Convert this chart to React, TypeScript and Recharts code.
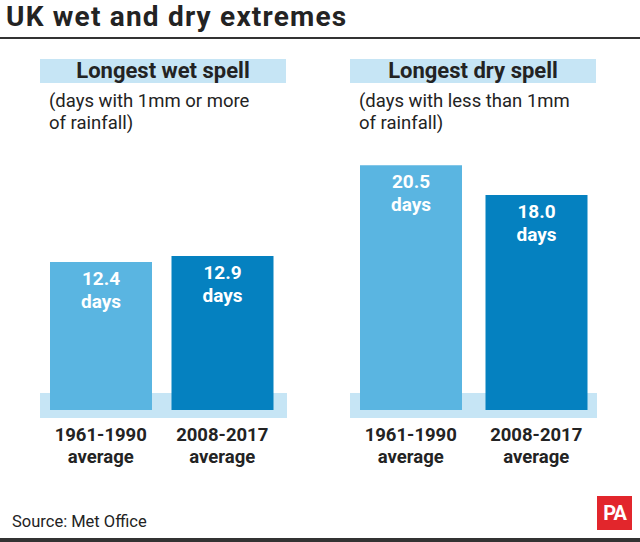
import React from 'react';
import { BarChart, Bar, XAxis, YAxis, LabelList, Cell } from 'recharts';

const categories = ['1961-1990', '2008-2017'];
const wetValues = [12.4, 12.9];
const dryValues = [20.5, 18.0];
const panelTitles = ['Longest wet spell', 'Longest dry spell'];
const panelNotes = [
    ['(days with 1mm or more', 'of rainfall)'],
    ['(days with less than 1mm', 'of rainfall)'],
];

const BAR_COLORS = ['#5ab5e1', '#0581c0'];
const PALE = '#c6e5f5';
const INK = '#232323';
const FONT = 'Roboto, "Noto Sans", sans-serif';

const CategoryTick = ({ x, y, payload }: any) => (
    <g>
        <text x={x} y={y + 31} textAnchor="middle" fill={INK} fontSize={18.5} fontWeight={700} fontFamily={FONT}>
            {payload.value}
        </text>
        <text x={x} y={y + 53} textAnchor="middle" fill={INK} fontSize={18.5} fontWeight={700} fontFamily={FONT}>
            average
        </text>
    </g>
);

const ValueLabel = ({ x, y, width, value }: any) => (
    <g>
        <text x={x + width / 2} y={y + 23} textAnchor="middle" fill="#fff" fontSize={19} fontWeight={700} fontFamily={FONT}>
            {Number(value).toFixed(1)}
        </text>
        <text x={x + width / 2} y={y + 46} textAnchor="middle" fill="#fff" fontSize={19} fontWeight={700} fontFamily={FONT}>
            days
        </text>
    </g>
);

interface PanelProps {
    values: number[];
    plotLeft: number;
    plotWidth: number;
    index: number;
}

const Panel: React.FC<PanelProps> = ({ values, plotLeft, plotWidth, index }) => {
    const data = categories.map((c, i) => ({ period: c, days: values[i] }));
    const boxLeft = index === 0 ? 40 : 350;
    return (
        <>
            <div
                style={{
                    position: 'absolute', left: boxLeft, top: 59, width: 246, height: 24,
                    background: PALE, color: INK, fontWeight: 700, fontSize: 22, lineHeight: '24px',
                    textAlign: 'center',
                }}
            >
                {panelTitles[index]}
            </div>
            <div
                style={{
                    position: 'absolute', left: boxLeft + 9, top: 90, fontSize: 18.5, lineHeight: '22px',
                    color: INK, whiteSpace: 'nowrap',
                }}
            >
                {panelNotes[index][0]}
                <br />
                {panelNotes[index][1]}
            </div>
            <div style={{ position: 'absolute', left: boxLeft, top: 393, width: 247, height: 25, background: PALE }} />
            <div style={{ position: 'absolute', left: plotLeft, top: 0 }}>
                <BarChart
                    width={plotWidth}
                    height={480}
                    data={data}
                    margin={{ top: 111.5, right: 0, left: 0, bottom: 0 }}
                >
                    <XAxis
                        dataKey="period"
                        height={70}
                        axisLine={false}
                        tickLine={false}
                        tickSize={0}
                        tickMargin={0}
                        interval={0}
                        tick={<CategoryTick />}
                    />
                    <YAxis type="number" domain={[0, 25]} hide />
                    <Bar dataKey="days" barSize={102} isAnimationActive={false}>
                        {data.map((d, i) => (
                            <Cell key={d.period} fill={BAR_COLORS[i]} />
                        ))}
                        <LabelList dataKey="days" content={<ValueLabel />} />
                    </Bar>
                </BarChart>
            </div>
        </>
    );
};

export default function App() {
    return (
        <div
            style={{
                position: 'absolute', left: 0, top: 0, width: 640, height: 542, background: '#fff',
                fontFamily: FONT, overflow: 'hidden',
            }}
        >
            <div
                style={{
                    position: 'absolute', left: 6, top: 0, fontSize: 28, fontWeight: 700,
                    color: INK, whiteSpace: 'nowrap', letterSpacing: 1.2,
                }}
            >
                UK wet and dry extremes
            </div>
            <div style={{ position: 'absolute', left: 0, top: 37, width: 640, height: 2, background: '#333' }} />

            <Panel values={wetValues} plotLeft={40} plotWidth={243} index={0} />
            <Panel values={dryValues} plotLeft={348} plotWidth={251} index={1} />

            <div style={{ position: 'absolute', left: 12, top: 512, fontSize: 16.5, lineHeight: '20px', color: INK }}>
                Source: Met Office
            </div>
            <div
                style={{
                    position: 'absolute', left: 597, top: 496, width: 35, height: 34, background: '#e2262c',
                    color: '#fff', fontWeight: 700, fontSize: 20, lineHeight: '34px', textAlign: 'center',
                    letterSpacing: -1,
                }}
            >
                PA
            </div>
            <div style={{ position: 'absolute', left: 0, top: 538, width: 640, height: 4, background: '#333' }} />
        </div>
    );
}
